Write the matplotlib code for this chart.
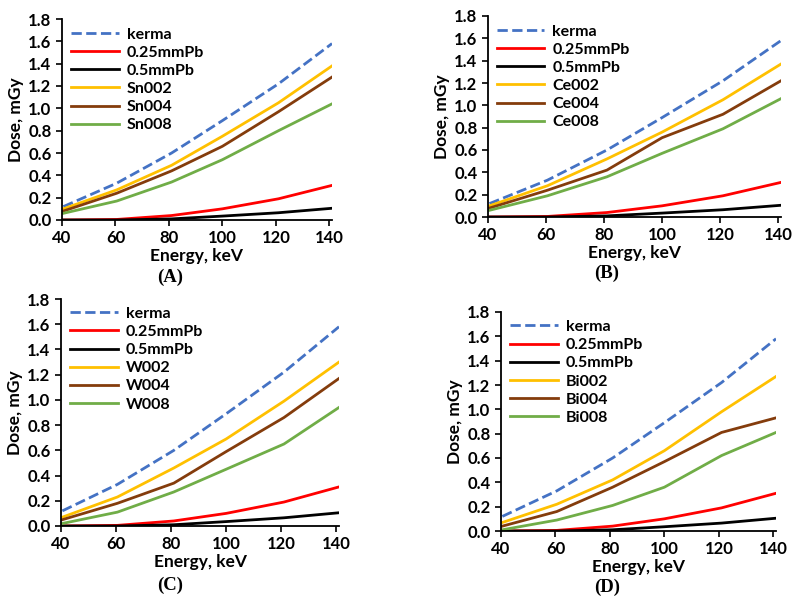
import matplotlib.pyplot as plt

plt.rcParams['font.family'] = ['Lato', 'DejaVu Sans']

energy = [40.5, 60.5, 81, 100, 121, 141]
kerma = [0.12, 0.33, 0.60, 0.89, 1.22, 1.58]
pb025 = [0.0, 0.005, 0.04, 0.10, 0.19, 0.31]
pb05 = [0.0, 0.0, 0.01, 0.035, 0.065, 0.105]

sn = {'Sn002': [0.10, 0.27, 0.49, 0.75, 1.05, 1.38],
      'Sn004': [0.08, 0.24, 0.44, 0.66, 0.97, 1.28],
      'Sn008': [0.06, 0.17, 0.34, 0.54, 0.80, 1.04]}
ce = {'Ce002': [0.10, 0.28, 0.52, 0.76, 1.05, 1.37],
      'Ce004': [0.08, 0.24, 0.42, 0.71, 0.92, 1.22],
      'Ce008': [0.06, 0.19, 0.36, 0.57, 0.79, 1.06]}
w = {'W002': [0.07, 0.23, 0.46, 0.69, 0.99, 1.30],
     'W004': [0.05, 0.18, 0.34, 0.59, 0.86, 1.17],
     'W008': [0.02, 0.11, 0.27, 0.45, 0.65, 0.94]}
bi = {'Bi002': [0.07, 0.22, 0.42, 0.66, 0.98, 1.27],
      'Bi004': [0.04, 0.16, 0.36, 0.57, 0.81, 0.93],
      'Bi008': [0.01, 0.09, 0.21, 0.36, 0.62, 0.81]}

filter_colors = ['#FFC000', '#843C0C', '#70AD47']

W, H = 796, 601
# pixel boxes: left, right, top, bottom
boxes = [(62, 332, 19, 220), (488, 781, 16, 217), (61, 339, 299, 526), (501, 776, 312, 531)]
panels = [sn, ce, w, bi]
captions = ['(A)', '(B)', '(C)', '(D)']
cap_pos = [(170, 277), (607, 273), (170, 585), (607, 587)]

fig = plt.figure(figsize=(W / 100, H / 100), dpi=100)

for (l, r, t, b), series, cap, (cx, cy) in zip(boxes, panels, captions, cap_pos):
    ax = fig.add_axes([l / W, (H - b) / H, (r - l) / W, (b - t) / H])
    ax.plot(energy, kerma, '--', color='#4472C4', lw=2, label='kerma')
    ax.plot(energy, pb025, color='#FF0000', lw=2, label='0.25mmPb')
    ax.plot(energy, pb05, color='black', lw=2, label='0.5mmPb')
    for (name, vals), c in zip(series.items(), filter_colors):
        ax.plot(energy, vals, color=c, lw=2, label=name)
    ax.set_xlim(40, 141)
    ax.set_ylim(0, 1.8)
    ax.set_xticks([40, 60, 80, 100, 120, 140])
    ax.set_yticks([0, 0.2, 0.4, 0.6, 0.8, 1.0, 1.2, 1.4, 1.6, 1.8])
    ax.set_yticklabels(['%.1f' % v for v in ax.get_yticks()])
    for lab in ax.get_xticklabels() + ax.get_yticklabels():
        lab.set_fontweight('bold')
        lab.set_fontsize(12)
    ax.spines['top'].set_visible(False)
    ax.spines['right'].set_visible(False)
    ax.spines['left'].set_linewidth(1.3)
    ax.spines['bottom'].set_linewidth(1.3)
    ax.tick_params(width=1.2, length=4)
    ax.set_xlabel('Energy, keV', fontsize=12.5, fontweight='bold', labelpad=1)
    ax.set_ylabel('Dose, mGy', fontsize=12.5, fontweight='bold', labelpad=3)
    ax.legend(loc='upper left', bbox_to_anchor=(-0.02, 1.03), frameon=False,
              handlelength=3.0, handletextpad=0.5, labelspacing=0.25,
              prop={'weight': 'bold', 'size': 11.5})
    fig.text(cx / W, 1 - cy / H, cap, ha='center', va='center',
             fontsize=13.5, fontweight='bold', family='Liberation Serif')

fig.savefig('out.png', dpi=100)
